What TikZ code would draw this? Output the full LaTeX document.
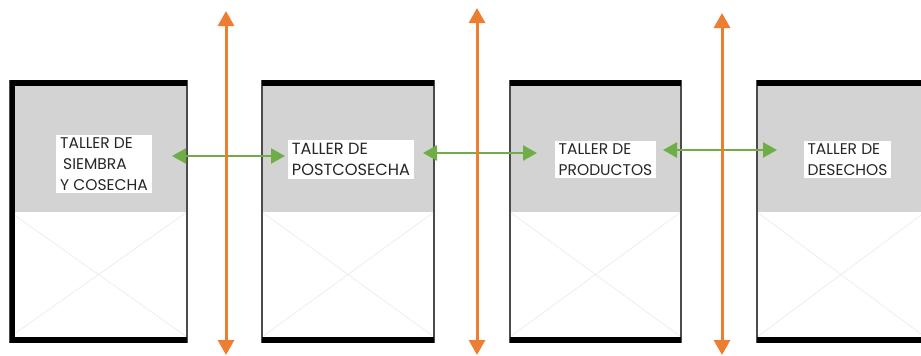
\documentclass[tikz,border=0pt]{standalone}
\usepackage{fontspec}
\setsansfont{Poppins}
\usetikzlibrary{arrows.meta,positioning}
\definecolor{tallergray}{HTML}{D3D3D3}
\definecolor{flowgreen}{HTML}{70AD47}
\definecolor{axisorange}{HTML}{ED7D31}

\begin{document}
\begin{tikzpicture}[x=1pt,y=-1pt,font=\sffamily\fontsize{15.5}{21}\selectfont,
  label/.style={fill=white,align=left,inner xsep=4pt,inner ysep=3pt,text=black!85},
  flow/.style={flowgreen,line width=2.5pt,{Triangle[width=15pt,length=14pt]}-{Triangle[width=15pt,length=14pt]}},
  axis/.style={axisorange,line width=3pt,{Triangle[width=16pt,length=15pt]}-{Triangle[width=16pt,length=15pt]}}]
\useasboundingbox (0,0) rectangle (921,356);
\clip (0,0) rectangle (921,356);
\foreach \l/\r in {10/187,262/434,510/681,757/925} {
  \fill[tallergray] (\l,86) rectangle (\r,212);
  \draw[black!7,line width=0.8pt] (\l,212) -- (\r,337) (\l,337) -- (\r,212);
  \draw[black!70,line width=1.5pt] (\l,80) -- (\l,343) (\r,80) -- (\r,343);
  \fill[black] (\l,80) rectangle (\r,86);
  \fill[black] (\l,337) rectangle (\r,343);
}
\fill[black] (10,80) rectangle (15,343);
\node[label] (siembra) at (104,164) {TALLER DE\\\hspace{3pt}SIEMBRA\\Y COSECHA};
\node[label,font=\sffamily\fontsize{16.2}{21}\selectfont] (postcosecha) at (351,159.5) {TALLER DE\\POSTCOSECHA};
\node[label] (productos) at (605.5,159.5) {TALLER DE\\PRODUCTOS};
\node[label] (desechos) at (847.5,159.5) {TALLER DE\\DESECHOS};
\coordinate (g1a) at (172,156);
\coordinate (g1b) at (285,156);
\coordinate (g2a) at (423,153);
\coordinate (g2b) at (537,153);
\coordinate (g3a) at (663,150);
\coordinate (g3b) at (777,150);
\draw[flow] (g1a) -- (g1b);
\draw[flow] (g2a) -- (g2b);
\draw[flow] (g3a) -- (g3b);
\coordinate (o1t) at (226,11);
\coordinate (o1b) at (226,355);
\coordinate (o2t) at (477,8);
\coordinate (o2b) at (477,355);
\coordinate (o3t) at (722,13);
\coordinate (o3b) at (722,355);
\draw[axis] (o1t) -- (o1b);
\draw[axis] (o2t) -- (o2b);
\draw[axis] (o3t) -- (o3b);
\end{tikzpicture}
\end{document}
